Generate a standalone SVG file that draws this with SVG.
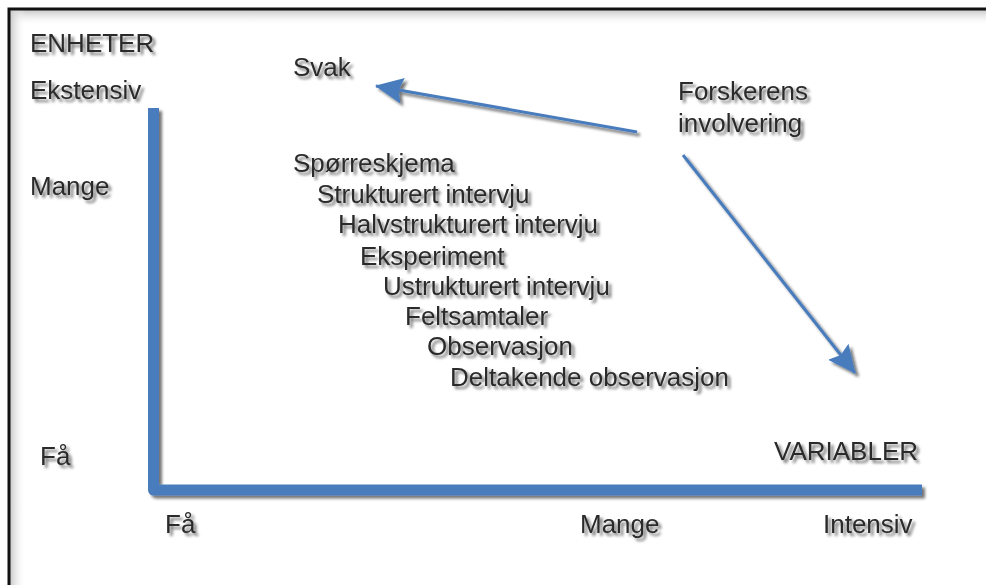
<svg xmlns="http://www.w3.org/2000/svg" width="986" height="585" viewBox="0 0 986 585">
  <defs>
    <style>
      .lbl { font-family: "Liberation Sans", Arial, sans-serif; font-size: 26px; fill: #2b2b2b; }
      .axis { fill: none; stroke: #4a7cbc; stroke-width: 11; stroke-linejoin: round; }
      .conn { fill: none; stroke: #4a7cbc; stroke-width: 3; }
    </style>
    <filter id="shadow" x="-10%" y="-10%" width="130%" height="140%">
      <feGaussianBlur in="SourceAlpha" stdDeviation="1.8" result="blur"/>
      <feOffset in="blur" dx="3" dy="3" result="off"/>
      <feComponentTransfer in="off" result="soft">
        <feFuncA type="linear" slope="0.55"/>
      </feComponentTransfer>
      <feMerge>
        <feMergeNode in="soft"/>
        <feMergeNode in="SourceGraphic"/>
      </feMerge>
    </filter>
    <linearGradient id="edgeTop" x1="0" y1="0" x2="0" y2="1">
      <stop offset="0" stop-color="#c8c8c8"/>
      <stop offset="1" stop-color="#ffffff" stop-opacity="0"/>
    </linearGradient>
    <linearGradient id="edgeLeft" x1="0" y1="0" x2="1" y2="0">
      <stop offset="0" stop-color="#c8c8c8"/>
      <stop offset="1" stop-color="#ffffff" stop-opacity="0"/>
    </linearGradient>
    <marker id="head" markerUnits="userSpaceOnUse" markerWidth="30" markerHeight="28" viewBox="0 0 30 28" refX="27" refY="14" orient="auto">
      <path d="M0,1 L28,14 L0,27 L4,14 Z" fill="#4a7cbc"/>
    </marker>
  </defs>

  <!-- page and frame -->
  <rect x="0" y="0" width="986" height="585" fill="#ffffff"/>
  <rect x="10" y="10" width="976" height="16" fill="url(#edgeTop)"/>
  <rect x="10" y="10" width="16" height="575" fill="url(#edgeLeft)"/>
  <path d="M9,585 V9 H986" fill="none" stroke="#111111" stroke-width="3"/>

  <!-- axes -->
  <g id="axes" filter="url(#shadow)">
    <path class="axis" d="M153.5,108 V490 H922"/>
  </g>

  <!-- axis labels -->
  <g id="y-axis-labels" filter="url(#shadow)">
    <text class="lbl" x="30" y="52">ENHETER</text>
    <text class="lbl" x="30" y="99">Ekstensiv</text>
    <text class="lbl" x="30" y="195">Mange</text>
    <text class="lbl" x="40" y="465">Få</text>
  </g>
  <g id="x-axis-labels" filter="url(#shadow)">
    <text class="lbl" x="774" y="460">VARIABLER</text>
    <text class="lbl" x="165" y="533">Få</text>
    <text class="lbl" x="580" y="533">Mange</text>
    <text class="lbl" x="823" y="533">Intensiv</text>
  </g>

  <!-- researcher involvement -->
  <g id="svak" filter="url(#shadow)">
    <text class="lbl" x="293" y="76">Svak</text>
  </g>
  <g id="forskerens-involvering" filter="url(#shadow)">
    <text class="lbl" x="678" y="100">Forskerens</text>
    <text class="lbl" x="678" y="132">involvering</text>
  </g>

  <!-- methods, stepped -->
  <g id="metoder" filter="url(#shadow)">
    <text class="lbl" x="293" y="172">Spørreskjema</text>
    <text class="lbl" x="317" y="203">Strukturert intervju</text>
    <text class="lbl" x="338" y="233">Halvstrukturert intervju</text>
    <text class="lbl" x="360" y="265">Eksperiment</text>
    <text class="lbl" x="383" y="295">Ustrukturert intervju</text>
    <text class="lbl" x="405" y="325">Feltsamtaler</text>
    <text class="lbl" x="427" y="355">Observasjon</text>
    <text class="lbl" x="450" y="386">Deltakende observasjon</text>
  </g>

  <!-- connectors -->
  <g id="connectors" filter="url(#shadow)">
    <line class="conn" x1="637" y1="132" x2="376" y2="86" marker-end="url(#head)"/>
    <line class="conn" x1="683" y1="155" x2="855" y2="373" marker-end="url(#head)"/>
  </g>
</svg>
